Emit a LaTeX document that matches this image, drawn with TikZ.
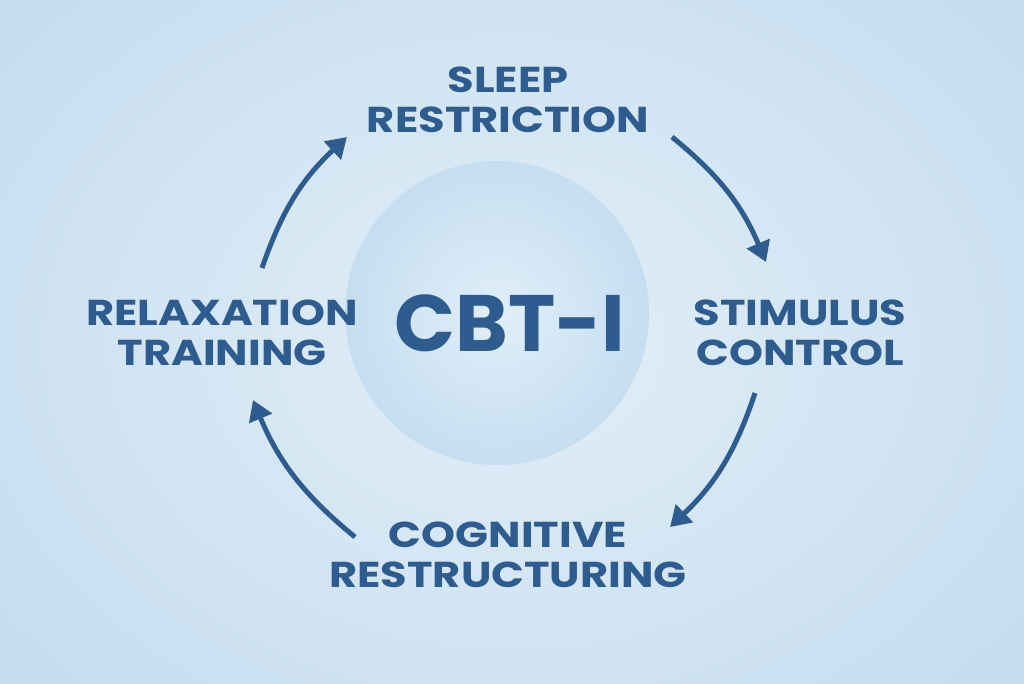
\documentclass[tikz,border=0pt]{standalone}
\usepackage{fontspec}
\setmainfont{Poppins}
\usetikzlibrary{arrows.meta}
\definecolor{txt}{HTML}{2F5C8E}
\definecolor{bgc}{HTML}{E2EFF8}
\definecolor{bge}{HTML}{C3DBEE}
\definecolor{cin}{HTML}{E0EFF9}
\definecolor{cout}{HTML}{C6DEF0}
\tikzset{
 lbl/.style={text=txt,font=\fontsize{36}{40}\selectfont\bfseries,align=center,xscale=1.2},
 arr/.style={draw=txt,line width=5pt,-{Triangle[length=20pt,width=24pt]}}
}
\begin{document}
\begin{tikzpicture}[x=1pt,y=-1pt]
\useasboundingbox (0,0) rectangle (1024,683);
\shade[inner color=bgc,outer color=bge] (-200,-200) rectangle (1224,883);
\shade[inner color=cin,outer color=cout] (497,313) circle (152);
\node[text=txt,font=\fontsize{80}{80}\selectfont\bfseries] (c) at (510,323) {CBT-I};
\node[lbl] (sr) at (508,100) {SLEEP\\RESTRICTION};
\node[lbl] (sc) at (800,333) {STIMULUS\\CONTROL};
\node[lbl] (cr) at (508,555) {COGNITIVE\\RESTRUCTURING};
\node[lbl] (rt) at (222,333) {RELAXATION\\TRAINING};
\coordinate (a1) at (262,268); \coordinate (b1) at (347,137);
\coordinate (a2) at (672,137); \coordinate (b2) at (766,262);
\coordinate (a3) at (755,393); \coordinate (b3) at (670,527);
\coordinate (a4) at (355,537); \coordinate (b4) at (253,400);
\draw[arr] (a1) to[bend right=-14] (b1);
\draw[arr] (a2) to[bend left=14] (b2);
\draw[arr] (a3) to[bend left=14] (b3);
\draw[arr] (a4) to[bend left=14] (b4);
\end{tikzpicture}
\end{document}
